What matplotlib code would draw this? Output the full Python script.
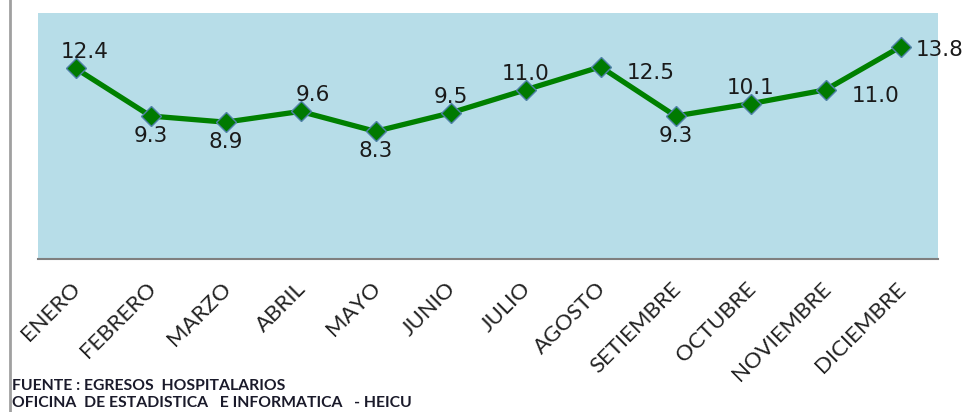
import matplotlib.pyplot as plt
import matplotlib.transforms as mtransforms

meses = ['ENERO', 'FEBRERO', 'MARZO', 'ABRIL', 'MAYO', 'JUNIO', 'JULIO',
         'AGOSTO', 'SETIEMBRE', 'OCTUBRE', 'NOVIEMBRE', 'DICIEMBRE']
valores = [12.4, 9.3, 8.9, 9.6, 8.3, 9.5, 11.0, 12.5, 9.3, 10.1, 11.0, 13.8]
# where each data label sits relative to its point
lugar = ['up', 'down', 'down', 'up', 'down', 'up', 'up', 'right',
         'down', 'up', 'right', 'right']
ajuste_x = [9, 0, 0, 12, 0, 0, 0, 0, 0, 0, 0, -11]

fig = plt.figure(figsize=(9.64, 4.12), dpi=100)
ax = fig.add_axes([38/964, 1-259/412, 900/964, 246/412])
ax.set_facecolor('#b7dde8')

x = list(range(len(meses)))
ax.plot(x, valores, '-', color='#008000', lw=3.8, marker='D', ms=10,
        mfc='#007a00', mec='#4f81a8', mew=1)

offs = {'up': (0, 16, 'center'), 'down': (0, -20, 'center'),
        'right': (26, -6, 'left')}
for xi, v, p, ax_ in zip(x, valores, lugar, ajuste_x):
    dx, dy, ha = offs[p]
    if xi == len(x)-1:
        dy = -3
    ax.annotate('%.1f' % v, (xi, v), xytext=(dx + ax_, dy),
                textcoords='offset pixels', ha=ha, va='center',
                fontsize=15.5, color='#1a1a1a')

ax.set_xlim(-0.5, 11.5)
ax.set_ylim(0, 16)
ax.set_yticks([])
ax.set_xticks(x)
ax.set_xticklabels(meses, rotation=45, ha='right', va='top',
                   rotation_mode='anchor', fontsize=16, family='Lato',
                   color='#222222')
ax.tick_params(axis='x', length=0, pad=14)
# nudge the month labels a bit to the left, like the original
corr = mtransforms.ScaledTranslation(-5/100, 0, fig.dpi_scale_trans)
for lab in ax.get_xticklabels():
    lab.set_transform(lab.get_transform() + corr)
for s in ['top', 'left', 'right']:
    ax.spines[s].set_visible(False)
ax.spines['bottom'].set_color('#7f7f7f')
ax.spines['bottom'].set_linewidth(1.5)

# left frame edge of the original chart
fig.add_artist(plt.Line2D([10/964, 10/964], [0, 1], color='#a0a0a0', lw=2))

fig.text(12/964, 1-386/412, 'FUENTE : EGRESOS  HOSPITALARIOS', fontsize=11.3,
         fontweight='bold', family='Lato', va='center', color='#1a1a2a')
fig.text(12/964, 1-403/412, 'OFICINA  DE ESTADISTICA   E INFORMATICA   - HEICU',
         fontsize=11.3, fontweight='bold', family='Lato', va='center',
         color='#1a1a2a')

fig.savefig('out.png', dpi=100)
